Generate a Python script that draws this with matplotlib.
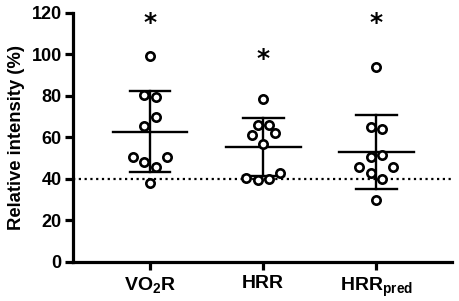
import numpy as np
import matplotlib.pyplot as plt

plt.rcParams['font.family'] = 'Liberation Sans'
plt.rcParams['font.weight'] = 'bold'
plt.rcParams['mathtext.fontset'] = 'custom'
plt.rcParams['mathtext.default'] = 'bf'
plt.rcParams['mathtext.bf'] = 'Liberation Sans:bold'

labels = ['VO$_2$R', 'HRR', 'HRR$_{pred}$']
vo2r = [99, 80.5, 79.5, 69.5, 65.5, 50.5, 50.5, 48, 45.5, 38]
hrr = [78.5, 66, 66, 61, 62, 56.5, 40.5, 39.5, 40, 42.5]
hrr_pred = [94, 64.7, 64, 50.5, 51.3, 45.7, 45.7, 42.5, 40, 29.5]
# horizontal jitter of the dots, as in the picture
offs_vo2r = [0, -0.05, 0.05, 0.05, -0.05, -0.15, 0.15, -0.05, 0.05, 0]
offs_hrr = [0, -0.05, 0.05, -0.1, 0.1, 0, -0.15, -0.05, 0.05, 0.15]
offs_pred = [0, -0.05, 0.05, -0.05, 0.05, -0.15, 0.15, -0.05, 0.05, 0]
star_y = [115, 97.5, 115]
threshold = 40

groups = [vo2r, hrr, hrr_pred]
offsets = [offs_vo2r, offs_hrr, offs_pred]

fig = plt.figure(figsize=(4.59, 3.01), dpi=100)
ax = fig.add_axes([0.159, 0.131, 0.826, 0.827])

ax.axhline(threshold, color='black', ls=(0, (1, 1.6)), lw=1.6, zorder=1)

for i, (vals, off) in enumerate(zip(groups, offsets)):
    x = i + 1
    m = np.mean(vals)
    sd = np.std(vals, ddof=1)
    ax.plot([x - 0.33, x + 0.33], [m, m], color='black', lw=1.7, zorder=2)
    ax.plot([x, x], [m - sd, m + sd], color='black', lw=1.7, zorder=2)
    for yy in (m - sd, m + sd):
        ax.plot([x - 0.18, x + 0.18], [yy, yy], color='black', lw=1.7, zorder=2)
    ax.plot(x + np.array(off), vals, 'o', mfc='white', mec='black',
            ms=6, mew=1.9, zorder=3)
    ax.text(x, star_y[i], '*', ha='center', va='center', fontsize=18,
            fontweight='bold', family='DejaVu Sans')

ax.set_xlim(0.318, 3.67)
ax.set_ylim(0, 120)
ax.set_yticks(range(0, 121, 20))
ax.set_xticks([1, 2, 3])
ax.set_xticklabels(labels, fontsize=14, fontweight='bold')
ax.tick_params(axis='y', labelsize=13, width=2.3, length=6, pad=2)
ax.tick_params(axis='x', width=2.3, length=6, pad=4)
ax.set_ylabel('Relative intensity (%)', fontsize=13.3, fontweight='bold', labelpad=5)

for s in ['top', 'right']:
    ax.spines[s].set_visible(False)
for s in ['left', 'bottom']:
    ax.spines[s].set_linewidth(2.3)

fig.savefig('out.png', dpi=100)
